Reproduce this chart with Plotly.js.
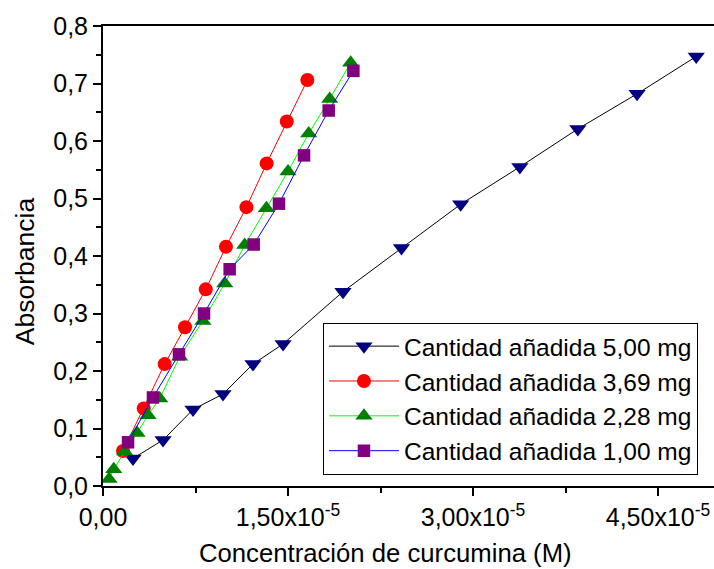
<!DOCTYPE html>
<html>
<head>
<meta charset="utf-8">
<script src="https://cdn.plot.ly/plotly-3.0.1.min.js"></script>
<style>html,body{margin:0;padding:0;overflow:hidden;background:#fff}</style>
</head>
<body>
<div id="chart" style="width:714px;height:569px"></div>
<script>
// Series data (concentration in M, absorbance)
const x500 = [2.43e-6, 4.87e-6, 7.30e-6, 9.73e-6, 1.216e-5, 1.460e-5, 1.946e-5, 2.420e-5, 2.900e-5, 3.380e-5, 3.850e-5, 4.330e-5, 4.810e-5];
const y500 = [0.048, 0.080, 0.133, 0.160, 0.212, 0.247, 0.338, 0.414, 0.490, 0.555, 0.621, 0.682, 0.747];

const x369 = [1.62e-6, 3.30e-6, 5.00e-6, 6.65e-6, 8.33e-6, 9.97e-6, 1.163e-5, 1.327e-5, 1.490e-5, 1.657e-5];
const y369 = [0.061, 0.135, 0.212, 0.276, 0.342, 0.416, 0.485, 0.561, 0.634, 0.706];

const x228 = [4.9e-7, 8.7e-7, 1.76e-6, 2.76e-6, 3.65e-6, 4.60e-6, 6.22e-6, 8.10e-6, 9.87e-6, 1.149e-5, 1.325e-5, 1.500e-5, 1.668e-5, 1.838e-5, 2.008e-5];
const y228 = [0.012, 0.029, 0.060, 0.092, 0.123, 0.152, 0.225, 0.287, 0.352, 0.419, 0.483, 0.547, 0.613, 0.673, 0.736];

const x100 = [2.03e-6, 4.05e-6, 6.16e-6, 8.19e-6, 1.027e-5, 1.222e-5, 1.427e-5, 1.630e-5, 1.830e-5, 2.030e-5];
const y100 = [0.076, 0.154, 0.229, 0.300, 0.377, 0.420, 0.491, 0.575, 0.653, 0.722];

const seriesNames = ["Cantidad añadida 5,00 mg", "Cantidad añadida 3,69 mg", "Cantidad añadida 2,28 mg", "Cantidad añadida 1,00 mg"];

const xTickVals = [0, 1.5e-5, 3.0e-5, 4.5e-5];
const xTickText = ["0,00", "1,50x10<sup>-5</sup>", "3,00x10<sup>-5</sup>", "4,50x10<sup>-5</sup>"];
const yTickVals = [0, 0.1, 0.2, 0.3, 0.4, 0.5, 0.6, 0.7, 0.8];
const yTickText = ["0,0", "0,1", "0,2", "0,3", "0,4", "0,5", "0,6", "0,7", "0,8"];

const xTitle = "Concentración de curcumina (M)";
const yTitle = "Absorbancia";

const FONT = "Liberation Sans, Arial, sans-serif";

const traces = [
  {x: x500, y: y500, name: seriesNames[0], mode: "lines+markers",
   line: {color: "#000000", width: 1}, marker: {symbol: "triangle-down", size: 15, color: "#000080"}},
  {x: x369, y: y369, name: seriesNames[1], mode: "lines+markers",
   line: {color: "#FF0000", width: 1}, marker: {symbol: "circle", size: 14, color: "#FF0000"}},
  {x: x228, y: y228, name: seriesNames[2], mode: "lines+markers",
   line: {color: "#00FF00", width: 1}, marker: {symbol: "triangle-up", size: 15, color: "#008000"}},
  {x: x100, y: y100, name: seriesNames[3], mode: "lines+markers",
   line: {color: "#0000FF", width: 1}, marker: {symbol: "square", size: 12.5, color: "#800080"}}
];

const layout = {
  width: 714, height: 569,
  margin: {l: 103, r: 0, t: 26, b: 83},
  paper_bgcolor: "#fff", plot_bgcolor: "#fff",
  font: {family: FONT, size: 24, color: "#000"},
  showlegend: true,
  legend: {
    x: 0.36, y: 0.355, xanchor: "left", yanchor: "top",
    bgcolor: "#fff", bordercolor: "#000", borderwidth: 1,
    font: {family: FONT, size: 24.5, color: "#000"},
    itemwidth: 70
  },
  xaxis: {
    range: [0, 4.954e-5], showgrid: false, zeroline: false,
    showline: true, linecolor: "#000", linewidth: 2, mirror: true,
    ticks: "outside", ticklen: 8, tickwidth: 2, tickcolor: "#000",
    tickvals: xTickVals, ticktext: xTickText,
    tickfont: {family: FONT, size: 25, color: "#000"},
    minor: {dtick: 0.75e-5, ticks: "outside", ticklen: 5, tickwidth: 2, tickcolor: "#000", showgrid: false}
  },
  yaxis: {
    range: [0, 0.8], showgrid: false, zeroline: false,
    showline: true, linecolor: "#000", linewidth: 2, mirror: true,
    ticks: "outside", ticklen: 8, tickwidth: 2, tickcolor: "#000",
    tickvals: yTickVals, ticktext: yTickText,
    tickfont: {family: FONT, size: 25, color: "#000"},
    minor: {dtick: 0.05, ticks: "outside", ticklen: 5, tickwidth: 2, tickcolor: "#000", showgrid: false}
  },
  annotations: [
    {text: xTitle, xref: "paper", yref: "paper", x: 0.463, y: -0.1457,
     xanchor: "center", yanchor: "middle", showarrow: false,
     font: {family: FONT, size: 25.7, color: "#000"}},
    {text: yTitle, xref: "paper", yref: "paper", x: -0.1277, y: 0.467,
     xanchor: "center", yanchor: "middle", showarrow: false, textangle: -90,
     font: {family: FONT, size: 26.5, color: "#000"}}
  ]
};

Plotly.newPlot("chart", traces, layout, {displayModeBar: false, staticPlot: true});
</script>
</body>
</html>
